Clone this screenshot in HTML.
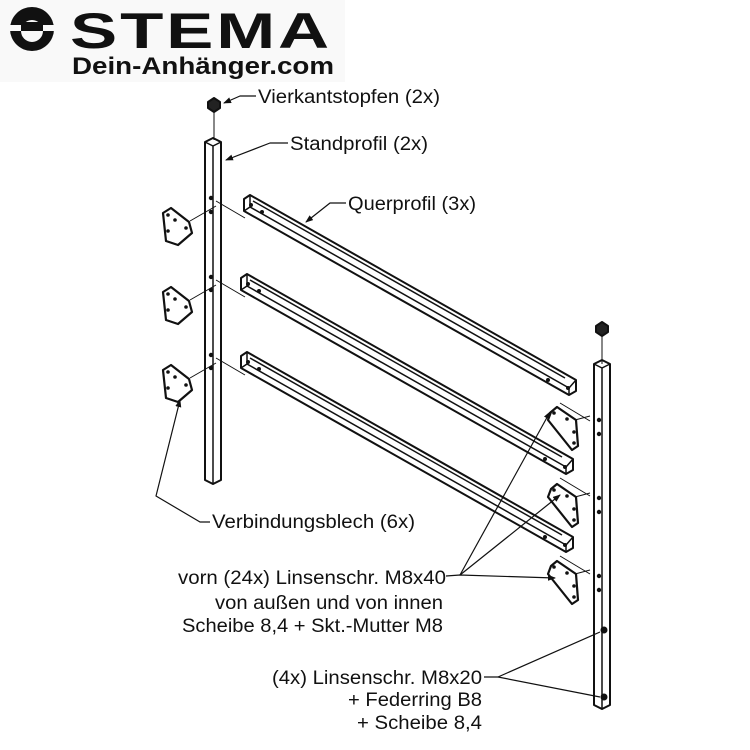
<!DOCTYPE html>
<html><head><meta charset="utf-8"><style>
body{margin:0;background:#fff}
svg{display:block}
text{font-family:"Liberation Sans",sans-serif;font-size:19px;fill:#111}
</style></head><body>
<svg width="750" height="750" viewBox="0 0 750 750" xmlns="http://www.w3.org/2000/svg">
<defs>
<marker id="ar" markerWidth="8" markerHeight="6" refX="7" refY="3" orient="auto" markerUnits="userSpaceOnUse">
<path d="M0 0 L8 3 L0 6 Z" fill="#111"/>
</marker>
</defs>
<rect x="0" y="0" width="345" height="82" fill="#f9f9f9"/>
<!-- logo -->
<circle cx="32" cy="29" r="22" fill="#111"/>
<rect x="8" y="25" width="48" height="6" fill="#f9f9f9"/>
<circle cx="32" cy="31" r="11" fill="#f9f9f9"/>
<rect x="21" y="22" width="22" height="9" fill="#111"/>
<text x="70" y="48" style="font-size:50px;font-weight:900;letter-spacing:2px" textLength="262" lengthAdjust="spacingAndGlyphs">STEMA</text>
<text x="72" y="74" style="font-size:24px;font-weight:bold" textLength="262" lengthAdjust="spacingAndGlyphs">Dein-Anhänger.com</text>

<g fill="none" stroke="#111" stroke-width="2" stroke-linejoin="round">
<!-- left post -->
<line x1="214" y1="110" x2="214" y2="140" stroke-width="1"/>
<path d="M208 102 L214 98 L220 102 L220 108 L214 112 L208 108 Z" fill="#222"/>
<path d="M205 142 L213 138 L221 142 L221 480 L213 484 L205 480 Z"/>
<path d="M205 142 L213 146 L221 142 M213 146 L213 484" stroke-width="1.5"/>
<!-- right post -->
<line x1="602" y1="334" x2="602" y2="364" stroke-width="1"/>
<path d="M596 326 L602 322 L608 326 L608 332 L602 336 L596 332 Z" fill="#222"/>
<path d="M594 364 L602 360 L610 364 L610 705 L602 709 L594 705 Z"/>
<path d="M594 364 L602 368 L610 364 M602 368 L602 709" stroke-width="1.5"/>
<!-- crossbars -->
<g id="bar">
<path d="M244 199 L250 195 L576 380 L576 391 L569 395 L244 211 Z"/>
<path d="M250 195 L250 207 L569 388 L576 380 M250 207 L244 211 M569 388 L569 395" stroke-width="1.5"/>
<path d="M253 201 L565 378" stroke-width="1.5"/>
</g>
<use href="#bar" transform="translate(-3,79)"/>
<use href="#bar" transform="translate(-3,157)"/>
<path d="M216 201 L245 218 M216 280 L245 297 M216 358 L245 375" stroke-width="1"/>
<path d="M560 403 L590 421 M560 478 L590 496 M560 556 L590 574" stroke-width="1"/>
<!-- left plates -->
<g id="lp">
<path d="M163 213 L171 208 L189 222 L192 233 L178 245 L166 241 Z" stroke-width="2.2"/>
<line x1="190" y1="221" x2="216" y2="206" stroke-width="1"/>
</g>
<use href="#lp" transform="translate(0,79)"/>
<use href="#lp" transform="translate(0,157)"/>
<!-- right plates -->
<g id="rp">
<path d="M551 412 L557 407 L576 420 L578 446 L572 450 L548 420 Z" stroke-width="2.2"/>
<line x1="575" y1="420" x2="590" y2="416" stroke-width="1"/>
</g>
<use href="#rp" transform="translate(0,77)"/>
<use href="#rp" transform="translate(0,154)"/>
<!-- leaders -->
<g stroke-width="1.2">
<path d="M256 96 L240 96 L224 103" marker-end="url(#ar)"/>
<path d="M288 143 L270 143 L226 160" marker-end="url(#ar)"/>
<path d="M346 203 L330 203 L306 222" marker-end="url(#ar)"/>
<path d="M210 522 L200 522 L156 496 L180 400" marker-end="url(#ar)"/>
<path d="M460 575 L550 412" marker-end="url(#ar)"/>
<path d="M460 575 L560 495" marker-end="url(#ar)"/>
<path d="M446 576 L460 575 L555 578" marker-end="url(#ar)"/>
<path d="M484 677 L498 677 L600 632"/>
<path d="M498 677 L600 697"/>
</g>
</g>
<!-- holes -->
<g fill="#111">
<circle cx="211" cy="198" r="2.2"/><circle cx="211" cy="212" r="2.2"/>
<circle cx="211" cy="277" r="2.2"/><circle cx="211" cy="290" r="2.2"/>
<circle cx="211" cy="355" r="2.2"/><circle cx="211" cy="368" r="2.2"/>
<circle cx="599" cy="420" r="2.2"/><circle cx="599" cy="434" r="2.2"/>
<circle cx="599" cy="498" r="2.2"/><circle cx="599" cy="512" r="2.2"/>
<circle cx="599" cy="576" r="2.2"/><circle cx="599" cy="590" r="2.2"/>
<circle cx="604" cy="630" r="3.5"/><circle cx="604" cy="697" r="3.5"/>
<circle cx="168" cy="215" r="1.8"/><circle cx="175" cy="220" r="1.8"/><circle cx="168" cy="231" r="1.8"/><circle cx="186" cy="228" r="1.8"/>
<circle cx="168" cy="294" r="1.8"/><circle cx="175" cy="299" r="1.8"/><circle cx="168" cy="310" r="1.8"/><circle cx="186" cy="307" r="1.8"/>
<circle cx="168" cy="372" r="1.8"/><circle cx="175" cy="377" r="1.8"/><circle cx="168" cy="388" r="1.8"/><circle cx="186" cy="385" r="1.8"/>
<circle cx="554" cy="413" r="1.8"/><circle cx="567" cy="419" r="1.8"/><circle cx="574" cy="432" r="1.8"/><circle cx="574" cy="443" r="1.8"/>
<circle cx="554" cy="490" r="1.8"/><circle cx="567" cy="496" r="1.8"/><circle cx="574" cy="509" r="1.8"/><circle cx="574" cy="520" r="1.8"/>
<circle cx="554" cy="567" r="1.8"/><circle cx="567" cy="573" r="1.8"/><circle cx="574" cy="586" r="1.8"/><circle cx="574" cy="597" r="1.8"/>
<circle cx="251" cy="205" r="2"/><circle cx="262" cy="212" r="2"/>
<circle cx="248" cy="284" r="2"/><circle cx="259" cy="291" r="2"/>
<circle cx="248" cy="362" r="2"/><circle cx="259" cy="369" r="2"/>
<circle cx="568" cy="388" r="2"/><circle cx="548" cy="380" r="2"/>
<circle cx="565" cy="467" r="2"/><circle cx="545" cy="459" r="2"/>
<circle cx="565" cy="545" r="2"/><circle cx="545" cy="537" r="2"/>
</g>
<!-- labels -->
<text x="258" y="103" textLength="182" lengthAdjust="spacingAndGlyphs">Vierkantstopfen (2x)</text>
<text x="290" y="150" textLength="138" lengthAdjust="spacingAndGlyphs">Standprofil (2x)</text>
<text x="348" y="210" textLength="128" lengthAdjust="spacingAndGlyphs">Querprofil (3x)</text>
<text x="212" y="528" textLength="203" lengthAdjust="spacingAndGlyphs">Verbindungsblech (6x)</text>
<text x="178" y="584" textLength="268" lengthAdjust="spacingAndGlyphs">vorn (24x) Linsenschr. M8x40</text>
<text x="215" y="609" textLength="228" lengthAdjust="spacingAndGlyphs">von außen und von innen</text>
<text x="182" y="632" textLength="261" lengthAdjust="spacingAndGlyphs">Scheibe 8,4 + Skt.-Mutter M8</text>
<text x="272" y="684" textLength="210" lengthAdjust="spacingAndGlyphs">(4x) Linsenschr. M8x20</text>
<text x="348" y="706" textLength="134" lengthAdjust="spacingAndGlyphs">+ Federring B8</text>
<text x="357" y="729" textLength="125" lengthAdjust="spacingAndGlyphs">+ Scheibe 8,4</text>
</svg>
</body></html>
